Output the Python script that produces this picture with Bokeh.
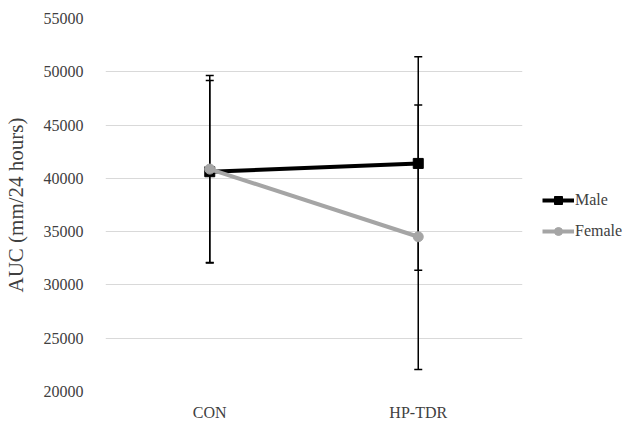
from bokeh.plotting import figure
from bokeh.models import ColumnDataSource, Whisker, TeeHead, Legend, LegendItem, FactorRange, Range1d, SingleIntervalTicker
from bokeh.embed import file_html
from bokeh.resources import INLINE

categories = ["CON", "HP-TDR"]
male_mean = [40620, 41400]
male_upper = [49180, 51420]
male_lower = [32050, 31380]
female_mean = [40870, 34520]
female_upper = [49650, 46880]
female_lower = [32100, 22060]

FONT = "Liberation Serif"
TXT = "#404040"

p = figure(frame_width=417, frame_height=373, x_range=FactorRange(*categories, range_padding=0),
           y_range=Range1d(20000, 55000), output_backend="svg", toolbar_location=None,
           min_border_left=97, min_border_top=18, min_border_bottom=26, min_border_right=108)
p.outline_line_color = None
p.background_fill_color = "white"

p.yaxis.ticker = SingleIntervalTicker(interval=5000)
p.ygrid.grid_line_color = "#d9d9d9"
p.ygrid.grid_line_width = 1
p.xgrid.grid_line_color = None
for ax in (p.xaxis[0], p.yaxis[0]):
    ax.axis_line_color = None
    ax.major_tick_line_color = None
    ax.minor_tick_line_color = None
    ax.major_label_text_font = FONT
    ax.major_label_text_font_size = "16px"
    ax.major_label_text_color = TXT
p.yaxis.major_label_standoff = 16
p.xaxis.major_label_standoff = 6
p.yaxis.axis_label = "AUC (mm/24 hours)"
p.yaxis.axis_label_text_font = FONT
p.yaxis.axis_label_text_font_size = "21px"
p.yaxis.axis_label_text_font_style = "normal"
p.yaxis.axis_label_text_color = TXT
p.yaxis.axis_label_standoff = 13

ms = ColumnDataSource(dict(x=categories, y=male_mean, up=male_upper, lo=male_lower))
fs = ColumnDataSource(dict(x=categories, y=female_mean, up=female_upper, lo=female_lower))

for src in (ms, fs):
    w = Whisker(source=src, base="x", upper="up", lower="lo", line_color="black", line_width=1.5,
                upper_head=TeeHead(size=8, line_color="black", line_width=1.5),
                lower_head=TeeHead(size=8, line_color="black", line_width=1.5))
    p.add_layout(w)

ml = p.line("x", "y", source=ms, line_color="black", line_width=4)
mm = p.scatter("x", "y", source=ms, marker="square", size=10, color="black")
fl = p.line("x", "y", source=fs, line_color="#a5a5a5", line_width=4)
fm = p.scatter("x", "y", source=fs, marker="circle", size=10, color="#a5a5a5")

legend = Legend(items=[LegendItem(label="Male", renderers=[ml, mm]),
                       LegendItem(label="Female", renderers=[fl, fm])],
                location=(20, 150), orientation="vertical",
                label_text_font=FONT, label_text_font_size="16px", label_text_color=TXT,
                glyph_width=32, glyph_height=20, label_height=20, label_standoff=1,
                spacing=11, padding=0, margin=0, border_line_color=None,
                background_fill_alpha=0)
p.add_layout(legend, "right")

open("out.html", "w").write(file_html(p, INLINE))
